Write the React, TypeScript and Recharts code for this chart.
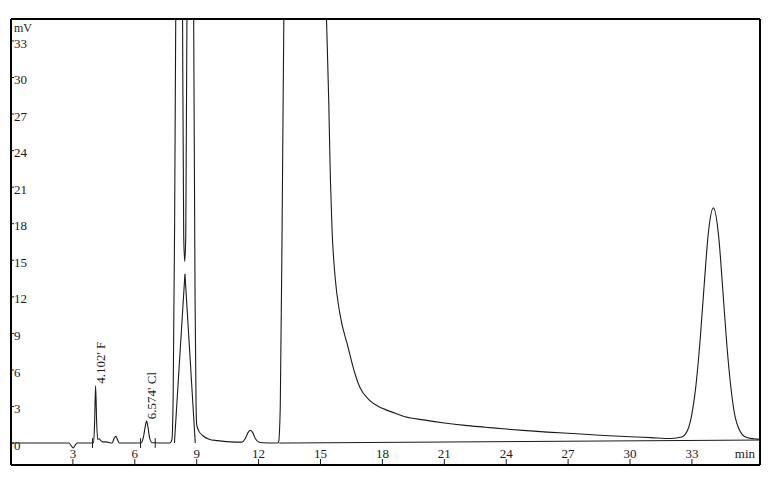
import React from 'react';
import { LineChart, Line, XAxis, YAxis, ReferenceLine, ReferenceDot } from 'recharts';

// retention time (min), signal (mV)
const sampleTrace: [number, number][] = [
  [0, 0], [2.8, 0], [2.93, -0.25], [3.02, -0.4], [3.1, -0.2], [3.2, 0],
  [3.9, 0], [4.0, 0.05], [4.05, 1.6], [4.1, 4.7], [4.15, 1.8], [4.2, 0.3],
  [4.27, 0.35], [4.35, 0.2], [4.45, 0.1], [4.6, 0.1], [4.9, 0],
  [5.0, 0.4], [5.08, 0.55], [5.16, 0.3], [5.25, 0],
  [6.3, 0], [6.42, 0.5], [6.5, 1.3], [6.57, 1.8], [6.64, 1.3], [6.72, 0.4], [6.85, 0.02],
  [7.7, 0], [7.8, 0.3], [7.86, 4], [7.93, 18], [8.0, 40], [8.15, 60], [8.3, 40],
  [8.37, 17], [8.42, 14.9], [8.47, 17], [8.54, 40], [8.7, 60], [8.85, 36],
  [8.92, 12], [8.97, 3], [9.0, 1.5], [9.1, 1.0], [9.3, 0.6], [9.6, 0.32],
  [10.0, 0.2], [10.6, 0.1], [11.2, 0.08], [11.35, 0.35], [11.5, 0.9], [11.6, 1.05],
  [11.7, 0.9], [11.85, 0.35], [12.0, 0.08], [12.2, 0.02], [12.9, 0],
  [12.97, 0.1], [13.05, 3], [13.15, 20], [13.25, 40], [13.8, 80], [14.6, 80],
  [15.29, 34.8], [15.4, 28], [15.48, 21.6], [15.56, 17.5], [15.72, 13.4],
  [15.93, 10.7], [16.33, 7.9], [16.66, 5.75], [16.9, 4.6], [17.38, 3.5],
  [18.0, 2.85], [18.6, 2.46], [19.1, 2.16], [20, 1.9], [21, 1.65], [22, 1.45],
  [23, 1.3], [24, 1.15], [25, 1.02], [26, 0.9], [27, 0.8], [28, 0.7], [29, 0.6],
  [30, 0.52], [31, 0.45], [32, 0.38], [32.5, 0.5], [32.8, 1.1], [33.0, 2.4], [33.2, 4.8],
  [33.4, 8.5], [33.6, 13.1], [33.8, 17.3], [34.04, 19.3], [34.3, 16.9], [34.5, 12.5],
  [34.7, 7.9], [34.9, 4.4], [35.1, 2.1], [35.3, 1.1], [35.6, 0.5], [36.0, 0.35], [36.3, 0.3],
];

// overlaid second run: triangular peak and drifting baseline
const overlayPeak: [number, number][] = [[7.92, 0], [8.43, 13.9], [8.93, 0]];
const driftBaseline: [number, number][] = [[13.0, 0], [36.3, 0.25]];

const peakTimes = [4.102, 6.574];
const peakHeights = [4.7, 1.8];
const peakNames = ['F', 'Cl'];
const markerTimes = [3.95, 6.28, 6.99];

const xTicks = [3, 6, 9, 12, 15, 18, 21, 24, 27, 30, 33];
const yTicks = [0, 3, 6, 9, 12, 15, 18, 21, 24, 27, 30, 33];

const toRows = (pts: [number, number][]) => pts.map(([t, v]) => ({ t, v }));

const font = "'Liberation Serif', 'Times New Roman', serif";
const ink = '#1a1a1a';

const YUnit = (props: any) => {
  const vb = props.viewBox || {};
  return (
    <text x={(vb.x || 0) + 3} y={(vb.y || 0) + 13} fontFamily={font} fontSize={12} fill={ink}>
      mV
    </text>
  );
};

const XUnit = (props: any) => {
  const vb = props.viewBox || {};
  return (
    <text
      x={(vb.x || 0) + (vb.width || 0) - 5}
      y={(vb.y || 0) + (vb.height || 0) - 7}
      textAnchor="end"
      fontFamily={font}
      fontSize={13}
      fill={ink}
    >
      min
    </text>
  );
};

const App = () => {
  return (
    <LineChart width={758} height={462} margin={{ top: 11, right: 6, bottom: 5, left: 3 }}>
      <XAxis
        type="number"
        dataKey="t"
        domain={[0, 36.3]}
        ticks={xTicks}
        allowDataOverflow
        mirror
        tickSize={6}
        tickMargin={1}
        axisLine={{ stroke: '#000', strokeWidth: 2 }}
        tickLine={{ stroke: ink }}
        tick={{ fontFamily: font, fontSize: 13, fill: ink }}
        label={<XUnit />}
      />
      <XAxis
        xAxisId="top"
        orientation="top"
        type="number"
        domain={[0, 36.3]}
        mirror
        tick={false}
        tickLine={false}
        axisLine={{ stroke: '#000', strokeWidth: 2 }}
      />
      <YAxis
        type="number"
        domain={[-1.8, 34.8]}
        ticks={yTicks}
        allowDataOverflow
        mirror
        tickSize={3}
        tickMargin={0}
        axisLine={{ stroke: '#000', strokeWidth: 2 }}
        tickLine={{ stroke: ink }}
        tick={{ fontFamily: font, fontSize: 13, fill: ink, dy: 2 }}
        label={<YUnit />}
      />
      <YAxis
        yAxisId="right"
        orientation="right"
        domain={[-1.8, 34.8]}
        mirror
        tick={false}
        tickLine={false}
        axisLine={{ stroke: '#000', strokeWidth: 2 }}
      />
      {markerTimes.map((t) => (
        <ReferenceLine
          key={t}
          segment={[{ x: t, y: -0.4 }, { x: t, y: 0.4 }]}
          stroke={ink}
          strokeWidth={1}
        />
      ))}
      <Line
        data={toRows(driftBaseline)}
        dataKey="v"
        type="linear"
        stroke={ink}
        strokeWidth={1}
        dot={false}
        activeDot={false}
        isAnimationActive={false}
      />
      <Line
        data={toRows(overlayPeak)}
        dataKey="v"
        type="linear"
        stroke={ink}
        strokeWidth={1.1}
        dot={false}
        activeDot={false}
        isAnimationActive={false}
      />
      <Line
        data={toRows(sampleTrace)}
        dataKey="v"
        type="monotone"
        stroke={ink}
        strokeWidth={1.1}
        dot={false}
        activeDot={false}
        isAnimationActive={false}
      />
      {peakTimes.map((t, i) => (
        <ReferenceDot
          key={t}
          x={t}
          y={peakHeights[i]}
          r={0}
          shape={(p: any) => (
            <text
              transform={`translate(${p.cx + 9},${p.cy - 2}) rotate(-90)`}
              fontFamily={font}
              fontSize={13}
              fill={ink}
            >
              {`${t.toFixed(3)}' ${peakNames[i]}`}
            </text>
          )}
        />
      ))}
    </LineChart>
  );
};

export default App;
